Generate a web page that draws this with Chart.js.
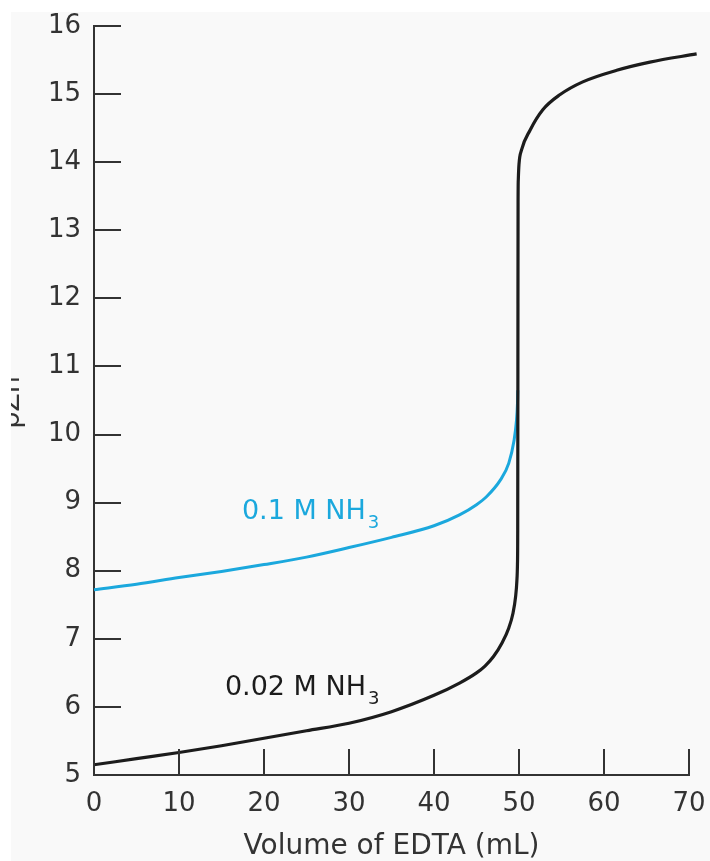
<!DOCTYPE html>
<html><head><meta charset="utf-8">
<script src="https://cdn.jsdelivr.net/npm/chart.js@4/dist/chart.umd.min.js"></script>
<style>
html,body{margin:0;padding:0;background:#fff;width:710px;height:861px;overflow:hidden;}
#wrap{position:absolute;left:11px;top:12px;width:699px;height:849px;}
</style></head><body>
<div id="wrap"><canvas id="c" width="699" height="849"></canvas></div>
<script>
// 0.02 M NH3 titration curve
const volume002 = [0, 5, 10, 15, 20, 25, 30, 35, 40, 43, 45, 46, 47, 48, 48.8, 49.3, 49.6, 49.75, 49.82, 49.85, 49.87, 49.89, 49.92, 50.0, 50.3, 51.3, 52.8, 54.8, 57.5, 61.5, 65.4, 70.9];
const pZn002    = [5.15, 5.24, 5.33, 5.43, 5.54, 5.65, 5.76, 5.93, 6.17, 6.35, 6.5, 6.6, 6.74, 6.94, 7.16, 7.38, 7.62, 7.85, 8.1, 8.6, 11.0, 13.4, 13.75, 13.97, 14.18, 14.47, 14.77, 14.99, 15.18, 15.35, 15.47, 15.59];
// 0.1 M NH3 titration curve
const volume01 = [0, 5, 10, 15, 20, 25, 30, 35, 40, 43, 45, 46.2, 47.8, 48.8, 49.4, 49.7, 49.82, 49.86];
const pZn01    = [7.72, 7.8, 7.9, 7.99, 8.09, 8.2, 8.34, 8.49, 8.66, 8.82, 8.97, 9.09, 9.33, 9.58, 9.9, 10.2, 10.45, 10.65];
// axis ticks
const xTickValues = [0, 10, 20, 30, 40, 50, 60, 70];
const yTickValues = [5, 6, 7, 8, 9, 10, 11, 12, 13, 14, 15, 16];
// texts
const xTitle = 'Volume of EDTA (mL)';
const yTitle = 'pZn';
const seriesLabels = ['0.02 M NH', '0.1 M NH'];
const seriesSub = ['3', '3'];
const labelAnchorX = [15.4, 17.4];
const labelAnchorY = [6.17, 8.76];

const FONT = 'DejaVu Sans';
const AXIS = '#333333';
const BLACK = '#1c1c1c';
const BLUE = '#1ba8dd';
const colors = [BLACK, BLUE];

const toPts = (xs, ys) => xs.map((x, i) => ({x, y: ys[i]}));

const bgPlugin = {
  id: 'bg',
  beforeDraw(chart) {
    const ctx = chart.ctx;
    ctx.save();
    ctx.fillStyle = '#f9f9f9';
    ctx.fillRect(0, 0, chart.width, chart.height);
    ctx.restore();
  }
};

const decoPlugin = {
  id: 'deco',
  afterDraw(chart) {
    const ctx = chart.ctx;
    const xs = chart.scales.x, ys = chart.scales.y;
    const ca = chart.chartArea;
    ctx.save();
    ctx.strokeStyle = AXIS;
    ctx.lineWidth = 2;
    ctx.beginPath();
    yTickValues.forEach(v => {
      const p = Math.round(ys.getPixelForValue(v));
      ctx.moveTo(ca.left, p);
      ctx.lineTo(ca.left + 27, p);
    });
    xTickValues.forEach(v => {
      const p = Math.round(xs.getPixelForValue(v));
      ctx.moveTo(p, ca.bottom);
      ctx.lineTo(p, ca.bottom - 26);
    });
    ctx.stroke();
    // y title (partly cut by the left edge, as in the source)
    ctx.save();
    ctx.translate(8, (ca.top + ca.bottom) / 2 + 2);
    ctx.rotate(-Math.PI / 2);
    ctx.font = '27px "' + FONT + '"';
    ctx.fillStyle = AXIS;
    ctx.textAlign = 'center';
    ctx.textBaseline = 'alphabetic';
    ctx.fillText(yTitle, 0, 0);
    ctx.restore();
    // series labels
    seriesLabels.forEach((t, i) => {
      const px = xs.getPixelForValue(labelAnchorX[i]);
      const py = ys.getPixelForValue(labelAnchorY[i]);
      ctx.fillStyle = colors[i];
      ctx.textAlign = 'left';
      ctx.textBaseline = 'alphabetic';
      ctx.font = '27px "' + FONT + '"';
      ctx.fillText(t, px, py);
      const w = ctx.measureText(t).width;
      ctx.font = '18px "' + FONT + '"';
      ctx.fillText(seriesSub[i], px + w + 2, py + 9);
    });
    ctx.restore();
  }
};

new Chart(document.getElementById('c'), {
  type: 'scatter',
  data: {
    datasets: [
      {label: seriesLabels[0], data: toPts(volume002, pZn002), showLine: true, borderColor: BLACK, borderWidth: 3.2, pointRadius: 0, cubicInterpolationMode: 'monotone', clip: false},
      {label: seriesLabels[1], data: toPts(volume01, pZn01), showLine: true, borderColor: BLUE, borderWidth: 3, pointRadius: 0, cubicInterpolationMode: 'monotone', clip: false}
    ]
  },
  options: {
    responsive: false,
    animation: false,
    devicePixelRatio: 1,
    layout: {padding: {left: 0, top: 14, right: 21, bottom: 0}},
    plugins: {legend: {display: false}, tooltip: {enabled: false}},
    scales: {
      x: {
        type: 'linear', min: 0, max: 70,
        afterBuildTicks: s => { s.ticks = xTickValues.map(v => ({value: v})); },
        ticks: {font: {family: FONT, size: 26, lineHeight: 1}, color: AXIS, padding: 16, maxRotation: 0},
        grid: {display: false, drawTicks: false},
        border: {display: true, color: AXIS, width: 2},
        title: {display: true, text: xTitle, font: {family: FONT, size: 28, lineHeight: 1}, color: AXIS, padding: {top: 0, bottom: 0}},
        afterFit: s => { s.height = 86; s.paddingLeft = 0; s.paddingRight = 0; }
      },
      y: {
        type: 'linear', min: 5, max: 16,
        afterBuildTicks: s => { s.ticks = yTickValues.map(v => ({value: v})); },
        ticks: {font: {family: FONT, size: 26, lineHeight: 1}, color: AXIS, padding: 13},
        grid: {display: false, drawTicks: false},
        border: {display: true, color: AXIS, width: 2},
        afterFit: s => { s.width = 83; s.paddingTop = 0; s.paddingBottom = 0; }
      }
    }
  },
  plugins: [bgPlugin, decoPlugin]
});
</script>
</body></html>
